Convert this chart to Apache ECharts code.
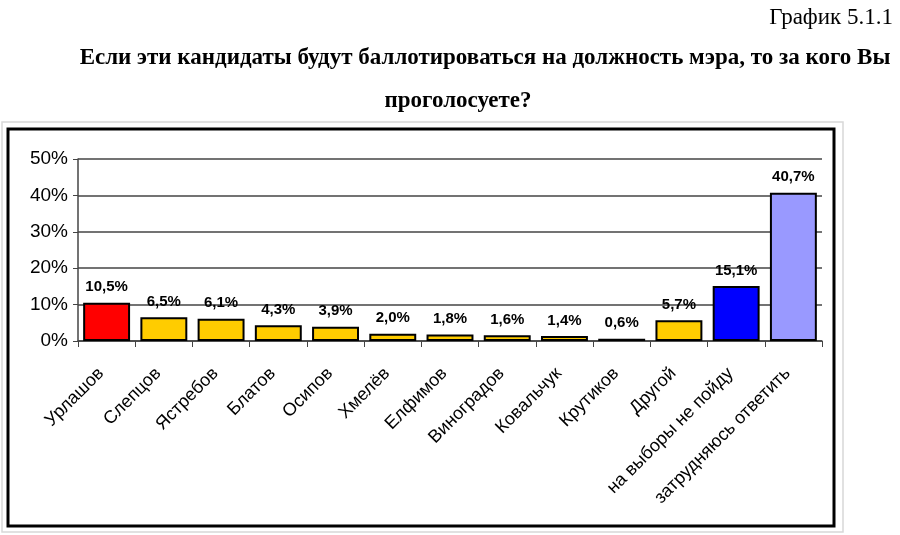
<!DOCTYPE html>
<html><head><meta charset="utf-8">
<script src="https://cdn.jsdelivr.net/npm/echarts@6/dist/echarts.min.js"></script>
<style>html,body{margin:0;padding:0;background:#fff}#c{width:900px;height:535px}</style>
</head><body><div id="c"></div>
<script>
const categories = ['Урлашов','Слепцов','Ястребов','Блатов','Осипов','Хмелёв','Елфимов','Виноградов','Ковальчук','Крутиков','Другой','на выборы не пойду','затрудняюсь ответить'];
const values = [10.5, 6.5, 6.1, 4.3, 3.9, 2.0, 1.8, 1.6, 1.4, 0.6, 5.7, 15.1, 40.7];
const barColors = ['#FF0000','#FFCC00','#FFCC00','#FFCC00','#FFCC00','#FFCC00','#FFCC00','#FFCC00','#FFCC00','#FFCC00','#FFCC00','#0000FF','#9999FF'];
const yTicks = [0, 10, 20, 30, 40, 50];
const captionText = 'График 5.1.1';
const titleLine1 = 'Если эти кандидаты будут баллотироваться на должность мэра, то за кого Вы';
const titleLine2 = 'проголосуете?';

const chart = echarts.init(document.getElementById('c'));
chart.setOption({
  animation: false,
  backgroundColor: '#fff',
  graphic: [
    {type:'rect', shape:{x:2,y:122,width:841,height:410}, style:{fill:'none',stroke:'#d8d8d8',lineWidth:1.5}, z:0},
    {type:'rect', shape:{x:8,y:129,width:826,height:397}, style:{fill:'none',stroke:'#000',lineWidth:3}, z:0},
    {type:'text', x:893, y:18, style:{text:captionText, font:'23px "Liberation Serif", "Times New Roman", serif', fill:'#000', textAlign:'right', textVerticalAlign:'middle'}},
    {type:'text', x:485, y:58, style:{text:titleLine1, font:'bold 23px "Liberation Serif", "Times New Roman", serif', fill:'#000', textAlign:'center', textVerticalAlign:'middle'}},
    {type:'text', x:458, y:101, style:{text:titleLine2, font:'bold 23px "Liberation Serif", "Times New Roman", serif', fill:'#000', textAlign:'center', textVerticalAlign:'middle'}}
  ],
  grid: {left:78, right:78, top:159, bottom:194, containLabel:false},
  xAxis: {
    type:'category', data:categories,
    axisLine:{lineStyle:{color:'#444', width:1.5}},
    axisTick:{show:true, alignWithLabel:false, length:6, lineStyle:{color:'#444'}},
    axisLabel:{rotate:45, interval:0, margin:24, padding:[0,8,0,0], fontFamily:'Liberation Sans, Arial, sans-serif', fontSize:18, color:'#000'}
  },
  yAxis: {
    type:'value', min:0, max:50, interval:10,
    axisLine:{show:true, lineStyle:{color:'#444', width:1.5}},
    axisTick:{show:true, length:5, lineStyle:{color:'#444'}},
    splitLine:{lineStyle:{color:'#444', width:1.5}},
    axisLabel:{formatter: v => yTicks.includes(v) ? v + '%' : '', fontFamily:'Liberation Sans, Arial, sans-serif', fontSize:19, color:'#000', margin:10}
  },
  series: [{
    type:'bar',
    data: values.map((v,i)=>({value:v, itemStyle:{color:barColors[i]}})),
    barWidth:'82%',
    itemStyle:{borderColor:'#000', borderWidth:2},
    label:{show:true, position:'top', distance:8, formatter: p => p.value.toFixed(1).replace('.', ',') + '%', fontFamily:'Liberation Sans, Arial, sans-serif', fontWeight:'bold', fontSize:15, color:'#000'}
  }]
});
</script></body></html>
